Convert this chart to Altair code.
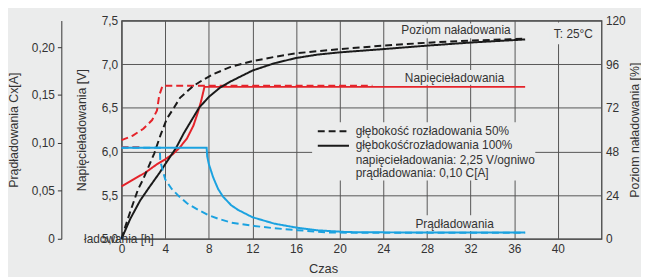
import altair as alt
import pandas as pd

BG = "#ebecec"
TXT = "#333333"
GRID = "#555555"
RED = "#e5232a"
BLUE = "#1ba2e0"
BLACK = "#1a1a1a"
FONT = "Liberation Sans"

# ---- axis ticks ----
x_ticks = [0, 4, 8, 12, 16, 20, 24, 28, 32, 36, 40]
volt_ticks = [5.0, 5.5, 6.0, 6.5, 7.0, 7.5]
pct_ticks = [0, 24, 48, 72, 96, 120]
cur_ticks = [0, 0.05, 0.10, 0.15, 0.20]

# ---- state of charge [%] ----
soc100_t = [0, 0.8, 1.7, 2.5, 3.45, 4, 5, 5.7, 6.6, 7.1, 8, 9, 10, 12, 14, 16, 18, 20, 24, 28, 32, 37]
soc100_v = [0, 11, 21, 28, 36, 41, 50, 58, 67, 72, 78, 83, 86.5, 92.5, 96.5, 99.4, 101.3, 102.5, 104.3, 106.2, 107.9, 109.6]
soc50_t = [0, 0.25, 0.8, 1.5, 2.0, 2.5, 3.0, 3.57, 4.15, 4.8, 5.36, 6.0, 6.57, 7.5, 8.4, 10, 12, 14, 16, 20, 24, 28, 32, 37]
soc50_v = [0, 5, 15, 27, 33, 40, 47, 57, 66, 72, 77.5, 81, 84, 87.5, 90.5, 94.5, 97.7, 100, 102, 104.3, 106.2, 107.8, 109, 110]

# ---- charging voltage [V] ----
volt100_t = [0, 1.1, 2.2, 3.2, 4, 4.7, 5.3, 6.0, 6.6, 7.0, 7.3, 7.6, 37]
volt100_v = [5.60, 5.68, 5.76, 5.85, 5.91, 5.97, 6.04, 6.15, 6.30, 6.45, 6.58, 6.74, 6.74]
volt50_t = [0, 1, 2, 2.8, 3.25, 3.45, 3.75, 23]
volt50_v = [6.13, 6.18, 6.26, 6.36, 6.47, 6.64, 6.752, 6.752]
voltref_t = [0, 1.7]
voltref_v = [6.05, 6.05]

# ---- charging current [C A] ----
cur100_t = [0, 7.8, 7.85, 8.0, 8.4, 8.85, 9.3, 10.05, 10.7, 12, 14, 16.1, 18, 20.7, 24, 28, 37]
cur100_v = [0.095, 0.095, 0.086, 0.078, 0.064, 0.052, 0.044, 0.035, 0.030, 0.0225, 0.0158, 0.0115, 0.0088, 0.0070, 0.0067, 0.0066, 0.0066]
cur50_t = [0, 3.5, 3.55, 4.0, 4.6, 5.2, 6.0, 7.0, 7.9, 8.85, 10, 12, 14, 16.1, 19, 22, 37]
cur50_v = [0.095, 0.095, 0.081, 0.062, 0.052, 0.045, 0.037, 0.0303, 0.025, 0.021, 0.017, 0.0136, 0.011, 0.009, 0.0066, 0.0062, 0.0062]

# ---- annotation texts ----
label_texts = ["Poziom naładowania", "Napięcieładowania", "Prądładowania", "T: 25°C"]
label_x = [30.66, 30.53, 30.53, 41.42]
label_y = [7.387, 6.844, 5.17, 7.342]

legend_texts = ["głębokość rozładowania 50%", "głębokośćrozładowania 100%",
                "napięcieładowania: 2,25 V/ogniwo", "prądładowania: 0,10 C[A]", "ładowania [h]"]
legend_x = [21.46, 21.46, 21.46, 21.46, -3.44]
legend_y = [6.233, 6.069, 5.905, 5.752, 5.0]

sample_dod = ["50%", "100%"]
sample_x1 = [17.99, 17.99]
sample_x2 = [20.85, 20.85]
sample_y = [6.233, 6.067]

# background patches behind annotation texts (hide the grid)
patch_x1 = [17.47, 25.53, 25.8, 26.7, 39.2]
patch_x2 = [37.93, 35.85, 35.2, 34.4, 43.6]
patch_y1 = [5.667, 7.296, 6.765, 5.09, 7.228]
patch_y2 = [6.335, 7.466, 6.934, 5.271, 7.477]


def series(t, v, name):
    return pd.DataFrame({"t": t, "v": v, "dod": name})


soc_df = pd.concat([series(soc100_t, soc100_v, "100%"), series(soc50_t, soc50_v, "50%")])
volt_df = pd.concat([series(volt100_t, volt100_v, "100%"), series(volt50_t, volt50_v, "50%"),
                     series(voltref_t, voltref_v, "ref")])
cur_df = pd.concat([series(cur100_t, cur100_v, "100%"), series(cur50_t, cur50_v, "50%")])
label_df = pd.DataFrame({"x": label_x, "y": label_y, "text": label_texts})
legend_df = pd.DataFrame({"x": legend_x, "y": legend_y, "text": legend_texts})
sample_df = pd.DataFrame({"x1": sample_x1, "x2": sample_x2, "y": sample_y, "dod": sample_dod})
patch_df = pd.DataFrame({"x1": patch_x1, "x2": patch_x2, "y1": patch_y1, "y2": patch_y2})

W, H = 486, 221

x_scale = alt.Scale(domain=[0, 44], nice=False, zero=False)
volt_scale = alt.Scale(domain=[5, 7.5], nice=False, zero=False)
pct_scale = alt.Scale(domain=[0, 120], nice=False, zero=False)
cur_scale = alt.Scale(domain=[0, 0.2277], nice=False, zero=False)
dash_scale = alt.Scale(domain=["100%", "50%", "ref"], range=[[1, 0], [7, 4], [7, 4]])

common_axis = dict(labelFont=FONT, labelFontSize=12, labelColor=TXT,
                   titleFont=FONT, titleFontSize=12.5, titleFontWeight="normal", titleColor=TXT,
                   labelOverlap=False)

x_axis = alt.Axis(values=x_ticks, grid=True, gridColor=GRID, gridWidth=1, domain=False, ticks=False,
                  labelPadding=5, labelFlush=False, title="Czas", titleX=204, titleY=30,
                  titleBaseline="middle", titleAlign="center", titleFontSize=13, **{k: v for k, v in common_axis.items() if k != "titleFontSize"})

volt_axis = alt.Axis(orient="left", values=volt_ticks, grid=True, gridColor=GRID, gridWidth=1,
                     domain=False, ticks=False, labelPadding=4,
                     labelExpr="replace(format(datum.value, '.1f'), '.', ',')",
                     title="Napięcieładowania [V]", titleX=-41, titleY=H / 2, titleAngle=270,
                     titleBaseline="middle", titleAlign="center", **common_axis)

pct_axis = alt.Axis(orient="right", values=pct_ticks, grid=False, domain=False, ticks=False,
                    labelPadding=4, title="Poziom naładowania [%]", titleX=33, titleY=H / 2,
                    titleAngle=270, titleBaseline="middle", titleAlign="center", **common_axis)

cur_axis = alt.Axis(orient="left", offset=61, values=cur_ticks, grid=False, domain=True,
                    domainColor="#333333", domainWidth=1, ticks=True, tickSize=4, tickColor="#333333",
                    labelPadding=3,
                    labelExpr="datum.value == 0 ? '0' : replace(format(datum.value, '.2f'), '.', ',')",
                    title="Prądładowania Cx[A]", titleX=-48, titleY=H / 2, titleAngle=270,
                    titleBaseline="middle", titleAlign="center", **common_axis)


def X(field):
    return alt.X(f"{field}:Q", scale=x_scale, axis=x_axis)


dash = alt.StrokeDash("dod:N", scale=dash_scale, legend=None)

patches = alt.Chart(patch_df).mark_rect(color=BG).encode(
    x=X("x1"), x2="x2",
    y=alt.Y("y1:Q", scale=volt_scale, axis=None), y2="y2")

soc_lines = alt.Chart(soc_df).mark_line(color=BLACK, strokeWidth=2).encode(
    x=X("t"), y=alt.Y("v:Q", scale=pct_scale, axis=pct_axis), strokeDash=dash, detail="dod:N")

cur_lines = alt.Chart(cur_df).mark_line(color=BLUE, strokeWidth=2).encode(
    x=X("t"), y=alt.Y("v:Q", scale=cur_scale, axis=cur_axis), strokeDash=dash, detail="dod:N")

volt_lines = alt.Chart(volt_df).mark_line(color=RED, strokeWidth=2).encode(
    x=X("t"), y=alt.Y("v:Q", scale=volt_scale, axis=volt_axis), strokeDash=dash, detail="dod:N")

samples = alt.Chart(sample_df).mark_rule(color=BLACK, strokeWidth=2).encode(
    x=X("x1"), x2="x2", y=alt.Y("y:Q", scale=volt_scale, axis=None), strokeDash=dash)

labels = alt.Chart(label_df).mark_text(font=FONT, fontSize=12, color=TXT, align="center",
                                       baseline="middle").encode(
    x=X("x"), y=alt.Y("y:Q", scale=volt_scale, axis=None), text="text:N")

legend_text = alt.Chart(legend_df).mark_text(font=FONT, fontSize=12, color=TXT, align="left",
                                             baseline="middle").encode(
    x=X("x"), y=alt.Y("y:Q", scale=volt_scale, axis=None), text="text:N")

chart = alt.layer(patches, volt_lines, soc_lines, cur_lines, samples, labels, legend_text).resolve_scale(
    y="independent"
).properties(
    width=W, height=H, background=BG,
    autosize=alt.AutoSizeParams(type="none"),
    padding={"left": 115, "top": 11, "right": 40, "bottom": 37},
).configure_view(stroke="#333333", strokeWidth=1.2, fill=BG)

chart.save("out.html", embed_options={"renderer": "svg", "actions": False})
